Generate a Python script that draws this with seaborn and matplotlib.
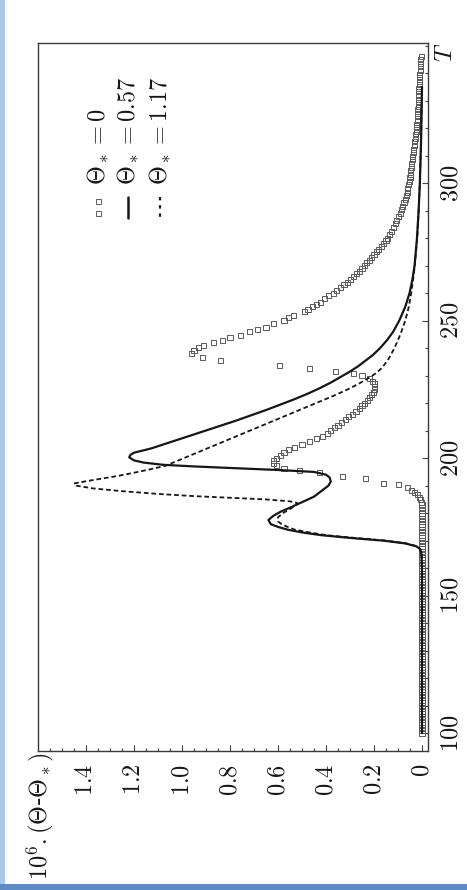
import numpy as np
import pandas as pd
import seaborn as sns
import matplotlib.pyplot as plt
from matplotlib.lines import Line2D
from matplotlib.patches import Rectangle

# ---- data: temperature T and 10^6*(Theta - Theta_*) for three Theta_* values ----
# Theta_* = 0 (open squares)
sq_T_base = list(range(100, 184))
sq_v_base = [0.0] * len(sq_T_base)
sq_T_rise = [184, 185, 185.8, 186.7, 187.6, 188.4, 189.3, 190.4, 190.8, 192.6, 193.5,
             194.7, 195.4, 196.2, 197.2, 198.1, 199.3]
sq_v_rise = [0.003, 0.006, 0.012, 0.02, 0.03, 0.042, 0.06, 0.098, 0.16, 0.237, 0.333,
             0.426, 0.51, 0.575, 0.605, 0.617, 0.62]
sq_T_mid = [200, 201, 202, 203, 204, 205, 206, 207, 208, 209, 210, 211, 212, 213, 214,
            215, 216, 217, 218, 219, 220, 221, 222, 223, 224, 225, 226, 227, 228, 229]
sq_v_mid = [0.605, 0.59, 0.575, 0.555, 0.53, 0.50, 0.47, 0.44, 0.415, 0.395, 0.38, 0.365,
            0.35, 0.335, 0.32, 0.305, 0.29, 0.275, 0.26, 0.25, 0.24, 0.228, 0.218, 0.21,
            0.203, 0.198, 0.196, 0.198, 0.205, 0.22]
sq_T_jump = [230.1, 230.8, 231.6, 232.6, 233.6, 235.6, 236.6, 238.1, 239.3, 240.2, 241.1,
             241.9, 242.9, 243.8, 244.7, 245.9, 246.8, 247.7, 249, 250.2, 251.2, 252,
             253.2, 254, 255, 256, 256.8, 258, 259, 260]
sq_v_jump = [0.25, 0.286, 0.36, 0.47, 0.595, 0.84, 0.915, 0.96, 0.95, 0.93, 0.91, 0.87,
             0.83, 0.80, 0.755, 0.72, 0.686, 0.65, 0.617, 0.575, 0.555, 0.534, 0.49, 0.475,
             0.458, 0.44, 0.423, 0.405, 0.39, 0.37]
sq_T_tail = [261, 262, 263, 264, 265, 266, 267, 268, 269, 270, 271, 272, 273, 274, 275,
             276, 277, 278, 279, 280, 281.3, 282.6, 283.9, 285.2, 286.5, 287.8, 289, 290.3,
             291.6, 292.9, 294.2, 295.5, 296.8, 298.1, 299.4, 300.7, 302, 303.3, 304.6,
             305.9, 307.2, 308.5, 309.8, 311.1, 312.4, 313.7, 315, 316.3, 317.6, 318.9,
             320.2, 321.5, 322.8, 324.1, 325.4, 326.7, 328, 329.3, 330.6, 331.9, 333.2,
             334.5, 335.8, 337.1, 338.4, 339.7, 341, 342.3, 343.6, 344.9, 346.2]
sq_v_tail = [0.355, 0.34, 0.325, 0.31, 0.297, 0.285, 0.272, 0.26, 0.25, 0.24, 0.23, 0.22,
             0.21, 0.20, 0.19, 0.18, 0.17, 0.16, 0.15, 0.142, 0.134, 0.126, 0.119, 0.112,
             0.105, 0.098, 0.09, 0.085, 0.08, 0.075, 0.07, 0.066, 0.062, 0.059, 0.056,
             0.053, 0.05, 0.048, 0.046, 0.044, 0.042, 0.04, 0.038, 0.036, 0.034, 0.032,
             0.03, 0.028, 0.026, 0.024, 0.022, 0.021, 0.02, 0.019, 0.018, 0.017, 0.016,
             0.016, 0.015, 0.015, 0.014, 0.013, 0.012, 0.011, 0.01, 0.009, 0.008, 0.007,
             0.006, 0.005, 0.004]
sq_T = sq_T_base + sq_T_rise + sq_T_mid + sq_T_jump + sq_T_tail
sq_v = sq_v_base + sq_v_rise + sq_v_mid + sq_v_jump + sq_v_tail

# Theta_* = 0.57 (solid)
solid_T = [100, 120, 140, 160, 165, 167, 168, 169, 170, 171, 172, 173, 174, 175, 176,
           177.5, 179, 180.5, 182, 184, 186, 188, 190, 191.5, 193, 194, 195, 195.7, 196.4,
           197, 197.6, 198.4, 199.2, 200.3, 201.2, 202, 203.5, 205.5, 207.5, 209.5, 211.5,
           213.5, 215.5, 217.5, 219.5, 221.5, 223.5, 225.5, 227.5, 229.5, 231.5, 233.5,
           235.5, 237.5, 240, 243, 246, 250, 255, 260, 265, 270, 280, 290, 300, 315, 335]
solid_v = [0, 0, 0, 0, 0.002, 0.008, 0.025, 0.07, 0.16, 0.3, 0.42, 0.5, 0.56, 0.6, 0.63,
           0.64, 0.62, 0.59, 0.55, 0.5, 0.45, 0.42, 0.39, 0.38, 0.385, 0.40, 0.45, 0.6, 0.79,
           0.95, 1.08, 1.16, 1.20, 1.22, 1.215, 1.2, 1.13, 1.06, 0.99, 0.92, 0.85, 0.78,
           0.715, 0.65, 0.59, 0.53, 0.475, 0.425, 0.38, 0.34, 0.30, 0.265, 0.235, 0.205,
           0.175, 0.145, 0.12, 0.095, 0.07, 0.052, 0.04, 0.031, 0.021, 0.014, 0.009, 0.004,
           0.0]

# Theta_* = 1.17 (dashed)
dash_T = [100, 120, 140, 160, 165, 167, 168, 169, 170, 171, 172, 173, 174, 175, 176, 177,
          178.5, 180, 181.5, 183, 183.7, 184.3, 185, 185.6, 186.2, 187, 188, 189, 190,
          190.8, 191.6, 192.5, 193.5, 194.7, 196, 197.2, 199, 201, 203, 205, 207, 209, 211,
          213, 215, 217, 219, 221, 223, 225, 227, 229, 231, 233, 236, 240, 245, 250, 255,
          260, 265, 270, 280, 290, 300, 315, 335]
dash_v = [0, 0, 0, 0, 0.002, 0.008, 0.025, 0.065, 0.15, 0.28, 0.4, 0.47, 0.53, 0.56, 0.585,
          0.6, 0.6, 0.58, 0.55, 0.525, 0.52, 0.55, 0.65, 0.8, 0.95, 1.1, 1.25, 1.37, 1.44,
          1.45, 1.40, 1.34, 1.27, 1.2, 1.13, 1.07, 1.02, 0.965, 0.91, 0.855, 0.80, 0.745,
          0.69, 0.635, 0.58, 0.525, 0.47, 0.415, 0.36, 0.31, 0.265, 0.225, 0.19, 0.165,
          0.14, 0.115, 0.09, 0.07, 0.055, 0.045, 0.037, 0.03, 0.02, 0.014, 0.009, 0.004,
          0.0]

value_ticks = [0, 0.2, 0.4, 0.6, 0.8, 1.0, 1.2, 1.4]
value_tick_labels = ["$0$", "$0.2$", "$0.4$", "$0.6$", "$0.8$", "$1.0$", "$1.2$", "$1.4$"]
T_ticks = [100, 150, 200, 250, 300]
T_tick_labels = ["$100$", "$150$", "$200$", "$250$", "$300$"]
legend_labels = [r"$\Theta_* = 0$", r"$\Theta_* = 0.57$", r"$\Theta_* = 1.17$"]

# ---- style ----
sns.set_theme(style="white")
plt.rcParams["font.family"] = ["DejaVu Serif"]
plt.rcParams["mathtext.fontset"] = "cm"
FS = 17.5
INK = "#161616"
SQ_EDGE = "#5a5a5a"
DASH = (0, (2.6, 1.6))

fig = plt.figure(figsize=(4.67, 8.90), dpi=100)
fig.patch.set_facecolor("white")
ax = fig.add_axes([38 / 467, 139 / 890, 390 / 467, 708 / 890])

# page frame strips
fig.add_artist(Rectangle((0, 0), 5 / 467, 1, transform=fig.transFigure,
                         color="#a6c7ee", lw=0, zorder=0))
fig.add_artist(Rectangle((0, 0), 1, 6 / 890, transform=fig.transFigure,
                         color="#5f8bc4", lw=0, zorder=0))

sns.scatterplot(x=sq_v, y=sq_T, marker="s", s=13, facecolor="none",
                edgecolor=SQ_EDGE, linewidth=0.7, ax=ax, zorder=2)
sns.lineplot(x=solid_v, y=solid_T, sort=False, estimator=None, orient="y",
             color=INK, lw=1.6, ax=ax, zorder=3)
sns.lineplot(x=dash_v, y=dash_T, sort=False, estimator=None, orient="y",
             color=INK, lw=1.3, linestyle=DASH, ax=ax, zorder=3)

ax.set_xlim(1.6, -0.025)
ax.set_ylim(93.5, 351)
ax.set_xlabel("")
ax.set_ylabel("")

ax.set_xticks(value_ticks)
ax.set_xticklabels(value_tick_labels, rotation=90, fontsize=FS, color=INK)
ax.set_xticks(np.arange(0, 1.6, 0.05), minor=True)
ax.yaxis.tick_right()
ax.set_yticks(T_ticks)
ax.set_yticklabels(T_tick_labels, rotation=90, va="center", fontsize=FS, color=INK)
ax.set_yticks(np.arange(100, 351, 10), minor=True)
ax.tick_params(which="both", direction="in", color="#444444", width=0.8)
ax.tick_params(which="major", length=4)
ax.tick_params(which="minor", length=2)
ax.tick_params(axis="x", which="both", bottom=True, pad=9)
ax.tick_params(axis="y", which="both", right=True, left=False, pad=8)
for sp in ax.spines.values():
    sp.set_color("#3a3a3a")
    sp.set_linewidth(1.0)

# axis titles
ax.text(0.005, -0.002, r"$10^6.(\Theta$-$\Theta_*)$", transform=ax.transAxes,
        rotation=90, ha="center", va="top", fontsize=FS, color=INK)
ax.text(1.044, 0.987, r"$T$", transform=ax.transAxes, rotation=90,
        ha="center", va="center", fontsize=FS, color=INK)

# legend drawn sideways, one column per entry
leg_x = [0.154, 0.231, 0.313]
for i, (xc, lab) in enumerate(zip(leg_x, legend_labels)):
    ax.text(xc, 0.80, lab, transform=ax.transAxes, rotation=90,
            ha="center", va="bottom", fontsize=FS, color=INK)
    if i == 0:
        ax.add_line(Line2D([xc, xc], [0.777, 0.760], transform=ax.transAxes,
                           ls="none", marker="s", ms=3.6, mfc="none",
                           mec=SQ_EDGE, mew=0.7))
    elif i == 1:
        ax.add_line(Line2D([xc, xc], [0.782, 0.753], transform=ax.transAxes,
                           color=INK, lw=1.8))
    else:
        ax.add_line(Line2D([xc, xc], [0.782, 0.753], transform=ax.transAxes,
                           color=INK, lw=1.6, linestyle=(0, (1.5, 2.2))))

fig.savefig("out.png", dpi=100, facecolor="white")
